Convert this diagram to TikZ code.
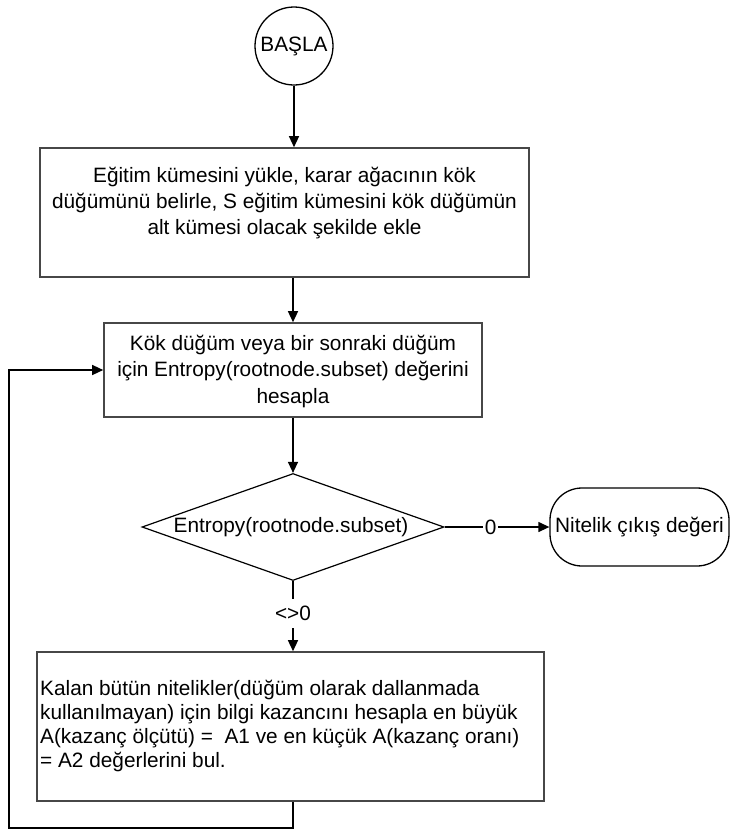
\documentclass[tikz,border=0pt]{standalone}
\usepackage{fontspec}
\setmainfont{Liberation Sans}
\usetikzlibrary{arrows.meta,shapes.geometric,calc}
\begin{document}
\begin{tikzpicture}[x=1pt,y=-1pt,
  font=\fontsize{20.8}{25}\selectfont,
  box/.style={draw=black!72,line width=1.6pt,inner sep=0pt},
  conn/.style={draw=black,line width=1.3pt},
  arr/.style={conn,-{Triangle[length=11pt,width=10pt]}},
  txt/.style={inner sep=0pt,align=center},
]
\useasboundingbox (0,0) rectangle (730,831);
% nodes
\node[draw,circle,line width=1.3pt,minimum size=78pt,inner sep=0pt] (start) at (294,46) {BAŞLA};
\node[box,minimum width=489pt,minimum height=129pt] (b1) at (284.5,212.5) {};
\node[txt,font=\fontsize{20.8}{26}\selectfont] (t1) at (284.5,203.5) {Eğitim kümesini yükle, karar ağacının kök\\düğümünü belirle, S eğitim kümesini kök düğümün\\alt kümesi olacak şekilde ekle};
\node[box,minimum width=378pt,minimum height=94pt] (b2) at (293,370) {};
\node[txt,font=\fontsize{20.8}{26.5}\selectfont] (t2) at (293,371) {Kök düğüm veya bir sonraki düğüm\\için Entropy(rootnode.subset) değerini\\hesapla};
\node[draw,diamond,line width=1.2pt,inner sep=0pt,minimum width=302pt,minimum height=107pt,aspect=2.82] (dia) at (293,527) {};
\node[inner sep=0pt] (td) at (291,527) {Entropy(rootnode.subset)};
\node[draw,line width=1.3pt,rounded corners=32pt,minimum width=179pt,minimum height=78pt,inner sep=0pt] (term) at (639.5,527) {Nitelik çıkış değeri};
\node[box,minimum width=507pt,minimum height=149pt] (b3) at (290.5,726.5) {};
\node[inner sep=0pt,anchor=west,align=left,font=\fontsize{20.8}{24}\selectfont] (t3) at (40,726) {Kalan bütün nitelikler(düğüm olarak dallanmada\\kullanılmayan) için bilgi kazancını hesapla en büyük\\A(kazanç ölçütü) =\ \ A1 ve en küçük A(kazanç oranı)\\= A2 değerlerini bul.};
\coordinate (lp) at (9,828);
% connectors
\draw[arr] (start.south) -- (start.south |- b1.north);
\draw[arr] (b2.north |- b1.south) -- (b2.north);
\draw[arr] (b2.south) -- (dia.north);
\draw[arr] (dia.east) -- node[pos=0.44,fill=white,inner xsep=1.5pt,inner ysep=0pt] (lz) {0} (term.west);
\draw[arr] (dia.south) -- node[pos=0.46,fill=white,inner xsep=1pt,inner ysep=7pt] (lnz) {<>0} (dia.south |- b3.north);
\draw[arr] (dia.south |- b3.south) -- (dia.south |- lp) -- (lp) -- (lp |- b2.west) -- (b2.west);
\end{tikzpicture}
\end{document}
